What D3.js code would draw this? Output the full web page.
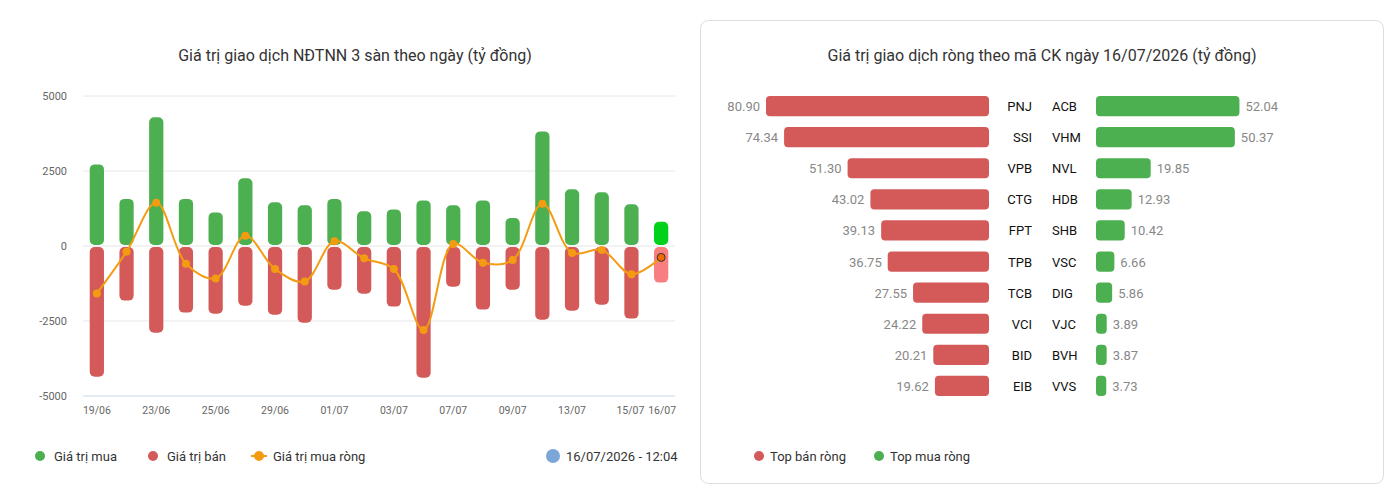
<html lang="en">
<head>
<meta charset="utf-8">
<script src="https://cdn.jsdelivr.net/npm/d3@7"></script>
<style>
  body { margin: 0; background: #fff; font-family: Roboto, "Noto Sans", sans-serif; }
  .title { font-size: 16px; fill: #333; text-anchor: middle; }
  .legend text { font-size: 13px; fill: #333; }
</style>
</head>
<body>
<svg id="chart" width="1395" height="500"></svg>
<script>
var dates = ["19/06","22/06","23/06","24/06","25/06","26/06","29/06","30/06","01/07","02/07","03/07","06/07","07/07","08/07","09/07","10/07","13/07","14/07","15/07","16/07"];
var buyValues = [2720,1570,4290,1570,1120,2260,1460,1360,1570,1160,1220,1520,1360,1520,930,3820,1890,1790,1390,810];
var sellValues = [-4360,-1820,-2890,-2220,-2260,-1990,-2290,-2560,-1460,-1590,-2020,-4390,-1360,-2120,-1460,-2460,-2160,-1960,-2420,-1220];
var netValues = [-1580,-190,1440,-590,-1080,340,-770,-1180,160,-410,-770,-2800,70,-560,-470,1410,-230,-130,-940,-380];
var tickDates = ["19/06","23/06","25/06","29/06","01/07","03/07","07/07","09/07","13/07","15/07","16/07"];
var yTicks = [-5000,-2500,0,2500,5000];

var sellCodes = ["PNJ","SSI","VPB","CTG","FPT","TPB","TCB","VCI","BID","EIB"];
var sellNet = [80.90,74.34,51.30,43.02,39.13,36.75,27.55,24.22,20.21,19.62];
var buyCodes = ["ACB","VHM","NVL","HDB","SHB","VSC","DIG","VJC","BVH","VVS"];
var buyNet = [52.04,50.37,19.85,12.93,10.42,6.66,5.86,3.89,3.87,3.73];

var green = "#4caf50", red = "#d45a5a", orange = "#f39c12";
var svg = d3.select("#chart");

// ---- left chart
svg.append("text").attr("class","title").attr("x",355).attr("y",61)
  .text("Giá trị giao dịch NĐTNN 3 sàn theo ngày (tỷ đồng)");

var x = d3.scaleBand().domain(dates).range([82,676]).paddingInner(0.52).paddingOuter(0.26);
var y = d3.scaleLinear().domain([-5000,5000]).range([396,96]);

svg.append("g").selectAll("line").data(yTicks).enter().append("line")
  .attr("x1",83).attr("x2",675).attr("y1",y).attr("y2",y)
  .attr("stroke", function(d){ return d === -5000 ? "#ccd6eb" : "#e6e6e6"; });

svg.append("g").selectAll("text").data(yTicks).enter().append("text")
  .attr("x",67).attr("y",function(d){ return y(d)+4; })
  .attr("text-anchor","end").style("font-size","11px").style("fill","#666")
  .text(function(d){ return d; });

svg.append("g").selectAll("rect").data(buyValues).enter().append("rect")
  .attr("x",function(d,i){ return x(dates[i]); })
  .attr("width",x.bandwidth())
  .attr("y",function(d){ return y(d); })
  .attr("height",function(d){ return y(0)-y(d)-1; })
  .attr("rx",5)
  .attr("fill",function(d,i){ return i === dates.length-1 ? "#00d21b" : green; });

svg.append("g").selectAll("rect").data(sellValues).enter().append("rect")
  .attr("x",function(d,i){ return x(dates[i]); })
  .attr("width",x.bandwidth())
  .attr("y",y(0)+1)
  .attr("height",function(d){ return y(d)-y(0)-1; })
  .attr("rx",5)
  .attr("fill",function(d,i){ return i === dates.length-1 ? "#f77f7f" : red; });

var line = d3.line()
  .x(function(d,i){ return x(dates[i]) + x.bandwidth()/2; })
  .y(function(d){ return y(d); })
  .curve(d3.curveCatmullRom.alpha(0.5));
svg.append("path").datum(netValues).attr("d",line)
  .attr("fill","none").attr("stroke",orange).attr("stroke-width",2);
svg.append("g").selectAll("circle").data(netValues).enter().append("circle")
  .attr("cx",function(d,i){ return x(dates[i]) + x.bandwidth()/2; })
  .attr("cy",y).attr("r",4)
  .attr("fill",function(d,i){ return i === dates.length-1 ? "#f06a00" : orange; })
  .attr("stroke",function(d,i){ return i === dates.length-1 ? "#333" : "none"; });

svg.append("g").selectAll("text").data(tickDates).enter().append("text")
  .attr("x",function(d){
    var c = x(d)+x.bandwidth()/2;
    if (d === "15/07") return c-1;
    if (d === "16/07") return c+1;
    return c;
  })
  .attr("y",414).attr("text-anchor","middle")
  .style("font-size","10.5px").style("fill","#666")
  .text(function(d){ return d; });

var leg = [["Giá trị mua",green,40],["Giá trị bán",red,153],["Giá trị mua ròng",orange,259]];
leg.forEach(function(l){
  var g = svg.append("g").attr("class","legend");
  if (l[0] === "Giá trị mua ròng") {
    g.append("line").attr("x1",l[2]-8).attr("x2",l[2]+8).attr("y1",456).attr("y2",456)
      .attr("stroke",l[1]).attr("stroke-width",2);
  }
  g.append("circle").attr("cx",l[2]).attr("cy",456).attr("r",5).attr("fill",l[1]);
  g.append("text").attr("x",l[2]+14).attr("y",461).text(l[0]);
});
var gl = svg.append("g").attr("class","legend");
gl.append("circle").attr("cx",553).attr("cy",456).attr("r",7).attr("fill","#7ba7d8");
gl.append("text").attr("x",566).attr("y",461).text("16/07/2026 - 12:04");

// ---- right chart
svg.append("rect").attr("x",700.5).attr("y",20.5).attr("width",683).attr("height",463)
  .attr("rx",8).attr("fill","none").attr("stroke","#ddd");
svg.append("text").attr("class","title").attr("x",1042).attr("y",61)
  .text("Giá trị giao dịch ròng theo mã CK ngày 16/07/2026 (tỷ đồng)");

var yr = d3.scaleBand().domain(d3.range(10)).range([90.5,401.5]).paddingInner(0.35).paddingOuter(0.175);
var xs = d3.scaleLinear().domain([0,80.9]).range([0,223]);

svg.append("g").selectAll("rect").data(sellNet).enter().append("rect")
  .attr("x",function(d){ return 989 - xs(d); }).attr("width",function(d){ return xs(d); })
  .attr("y",function(d,i){ return yr(i); }).attr("height",yr.bandwidth())
  .attr("rx",4).attr("fill",red);
svg.append("g").selectAll("text").data(sellNet).enter().append("text")
  .attr("x",function(d){ return 989 - xs(d) - 6; })
  .attr("y",function(d,i){ return yr(i)+yr.bandwidth()/2+5; })
  .attr("text-anchor","end").style("font-size","13px").style("fill","#888")
  .text(function(d){ return d.toFixed(2); });
svg.append("g").selectAll("text").data(sellCodes).enter().append("text")
  .attr("x",1032).attr("y",function(d,i){ return yr(i)+yr.bandwidth()/2+5; })
  .attr("text-anchor","end").style("font-size","13px").style("fill","#111")
  .text(function(d){ return d; });

svg.append("g").selectAll("rect").data(buyNet).enter().append("rect")
  .attr("x",1096).attr("width",function(d){ return xs(d); })
  .attr("y",function(d,i){ return yr(i); }).attr("height",yr.bandwidth())
  .attr("rx",4).attr("fill",green);
svg.append("g").selectAll("text").data(buyNet).enter().append("text")
  .attr("x",function(d){ return 1096 + xs(d) + 6; })
  .attr("y",function(d,i){ return yr(i)+yr.bandwidth()/2+5; })
  .style("font-size","13px").style("fill","#888")
  .text(function(d){ return d.toFixed(2); });
svg.append("g").selectAll("text").data(buyCodes).enter().append("text")
  .attr("x",1052).attr("y",function(d,i){ return yr(i)+yr.bandwidth()/2+5; })
  .style("font-size","13px").style("fill","#111")
  .text(function(d){ return d; });

[["Top bán ròng",red,759],["Top mua ròng",green,879]].forEach(function(l){
  var g = svg.append("g").attr("class","legend");
  g.append("circle").attr("cx",l[2]).attr("cy",456).attr("r",5).attr("fill",l[1]);
  g.append("text").attr("x",l[2]+11).attr("y",461).text(l[0]);
});
</script>
</body>
</html>
